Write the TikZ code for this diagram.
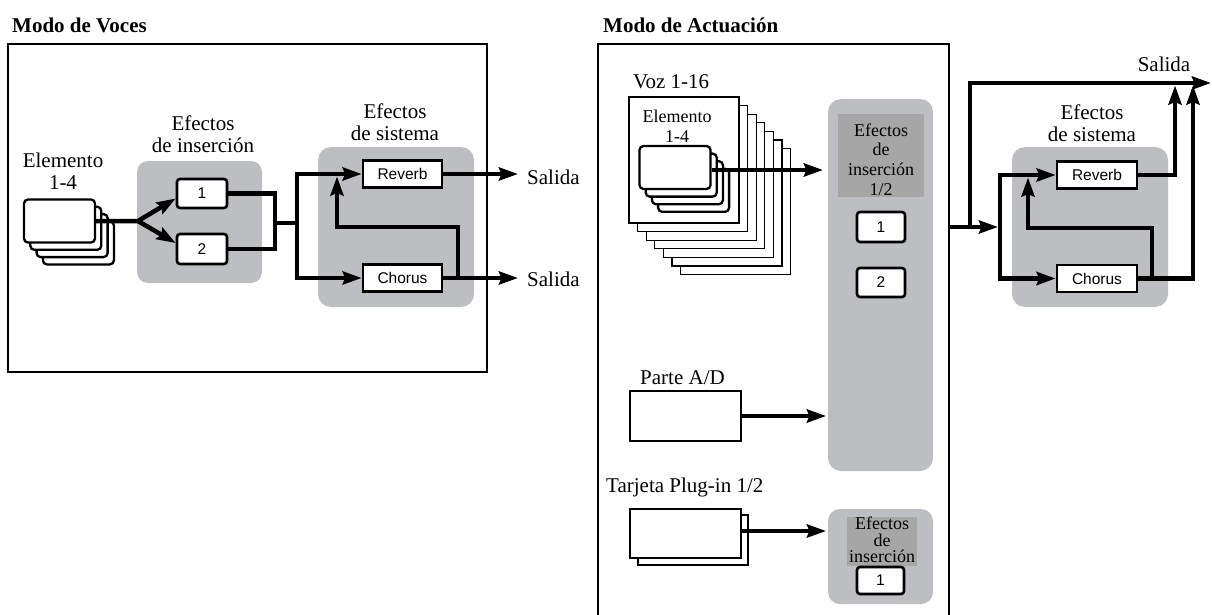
\documentclass[tikz,border=0pt]{standalone}
\usepackage{fontspec}
\setmainfont{Liberation Serif}
\setsansfont{Liberation Sans}
\usetikzlibrary{arrows.meta,calc}
\definecolor{lgray}{RGB}{189,190,193}
\definecolor{dgray}{RGB}{166,166,166}
\begin{document}
\begin{tikzpicture}[x=1pt,y=-1pt,
  frame/.style={line width=1.8pt},
  lbl/.style={font=\fontsize{21}{22}\selectfont, align=center, inner sep=0pt},
  slbl/.style={font=\fontsize{18}{19.7}\selectfont, align=center, inner sep=0pt},
  tlbl/.style={font=\fontsize{18}{16.5}\selectfont, align=center, inner sep=0pt},
  title/.style={font=\fontsize{21}{22}\selectfont\bfseries, inner sep=0pt},
  gbox/.style={fill=lgray, draw=none, rounded corners=11pt, inner sep=0pt},
  dbox/.style={fill=dgray, draw=none, inner sep=0pt},
  fxbox/.style={draw, fill=white, line width=2.6pt, rounded corners=3pt, font=\sffamily\fontsize{15.5}{15.5}\selectfont, inner sep=0pt},
  sysbox/.style={draw, fill=white, line width=2.6pt, font=\sffamily\fontsize{15.5}{15.5}\selectfont, inner sep=0pt, minimum width=79pt, minimum height=27pt},
  card/.style={draw, fill=white, line width=2.3pt, rounded corners=4pt, inner sep=0pt, minimum width=71pt, minimum height=43pt},
  sheet/.style={draw, fill=white, line width=1.2pt, inner sep=0pt},
  conn/.style={line width=4.5pt, line join=miter},
  arr/.style={conn, -{Stealth[length=19pt,width=13pt,inset=2.5pt]}},
]
\useasboundingbox (0,0) rectangle (1212,615);

% ================= Modo de Voces =================
\node[title, anchor=base west] (t1) at (12,33) {Modo de Voces};
\draw[frame] (8,44) rectangle (487,372);

\node[lbl] (elt) at (63,171) {Elemento\\1-4};
\foreach \k in {3,2,1,0}
  \node[card] (ec\k) at ({59.5+6.3*\k},{221+7.3*\k}) {};

\node[gbox, minimum width=125pt, minimum height=122pt] (ins) at (199.5,222) {};
\node[lbl] (inst) at (203,134) {Efectos\\de inserción};
\node[fxbox, minimum width=50pt, minimum height=29pt] (b1) at (202,193.5) {1};
\node[fxbox, minimum width=50pt, minimum height=30pt] (b2) at (202,249) {2};

\node[gbox, minimum width=156pt, minimum height=160pt, rounded corners=13pt] (sys) at (396,227) {};
\node[lbl] (syst) at (395,122) {Efectos\\de sistema};
\node[sysbox] (rv) at (402.5,174) {Reverb};
\node[sysbox] (ch) at (402.5,278) {Chorus};

\node[lbl, anchor=west] (sal1) at (527,177) {Salida};
\node[lbl, anchor=west] (sal2) at (527,279) {Salida};

\coordinate (sp) at (138,221);
\draw[arr] (ec0.east) -- (sp) -- ($(b1.west)+(0,5)$);
\draw[arr] (sp) -- ($(b2.west)+(0,-6)$);
\draw[conn] (b1.east) -| (275,223) |- (b2.east);
\coordinate (mj) at (297,223);
\draw[conn] (275,223) -- (mj);
\draw[arr] (mj) |- (rv.west);
\draw[arr] (mj) |- (ch.west);
\draw[arr] (rv.east) -- ([xshift=-9pt]sal1.west |- rv.east);
\draw[arr] (ch.east) -- ([xshift=-9pt]sal2.west |- ch.east);
\draw[arr] (458,278) |- (337,227) -- (337,176.5);

% ================= Modo de Actuacion =================
\node[title, anchor=base west] (t2) at (603,33) {Modo de Actuación};
\draw[frame] (598,616) -- (598,44) -- (949,44) -- (949,616);

\node[lbl, anchor=west] (voz) at (633,82) {Voz 1-16};
\foreach \k in {6,5,4,3,2,1,0}
  \node[sheet, minimum width=110pt, minimum height=126pt] (vs\k) at ({684+8.6*\k},{160+8.6*\k}) {};
\node[slbl] (iet) at (677,126) {Elemento\\1-4};
\foreach \k in {3,2,1,0}
  \node[card] (ic\k) at ({675+6.2*\k},{167.5+7.6*\k}) {};

\node[gbox, minimum width=105pt, minimum height=372pt, rounded corners=13pt] (ins2) at (880.5,285) {};
\node[dbox, minimum width=86pt, minimum height=83pt] (ins2l) at (881,155.5) {};
\node[slbl] (ins2t) at (881,159.5) {Efectos\\de\\inserción\\1/2};
\node[fxbox, minimum width=48pt, minimum height=30pt] (c1) at (881,227) {1};
\node[fxbox, minimum width=48pt, minimum height=29pt] (c2) at (881,282.5) {2};

\draw[arr] (ic0.east |- 0,170) -- (823,170);

\node[lbl, anchor=west] (adt) at (640,378) {Parte A/D};
\node[sheet, minimum width=111pt, minimum height=50pt] (ad) at (685.5,416) {};
\draw[arr] (ad.east) -- (826,416);

\node[lbl, anchor=west] (tjt) at (606,487) {Tarjeta Plug-in 1/2};
\node[sheet, minimum width=110pt, minimum height=50pt] (tc1) at (693,540) {};
\node[sheet, minimum width=111pt, minimum height=49pt] (tc0) at (685.5,533.5) {};
\draw[arr] (tc0.east |- 0,531) -- (826,531);

\node[gbox, minimum width=105pt, minimum height=95pt, rounded corners=12pt] (ins3) at (880.5,556.5) {};
\node[dbox, minimum width=70pt, minimum height=49pt] (ins3l) at (882,541.5) {};
\node[tlbl] (ins3t) at (882,540) {Efectos\\de\\inserción};
\node[fxbox, minimum width=47pt, minimum height=27pt] (d1) at (880.5,580.5) {1};

% ---- right system effects ----
\node[gbox, minimum width=156pt, minimum height=160pt, rounded corners=13pt] (sysR) at (1090,227) {};
\node[lbl] (sysRt) at (1092,123) {Efectos\\de sistema};
\node[sysbox, minimum width=80pt] (rvR) at (1097,175) {Reverb};
\node[sysbox, minimum width=80pt] (chR) at (1097,278.5) {Chorus};
\node[lbl] (salT) at (1164,64) {Salida};

\coordinate (rbo) at (949,227);
\coordinate (rsp) at (970,227);
\coordinate (rin) at (998,227);
\coordinate (rj) at (1000,227);
\coordinate (oT) at (1211,83);
\draw[conn] (rbo) -- (rsp);
\draw[arr] (rsp) -- (rin);
\draw[arr] (rsp) |- (oT);
\draw[arr] (rj) |- (rvR.west);
\draw[arr] (rj) |- (chR.west);
\draw[arr] (rvR.east) -| (1175,85.5);
\draw[arr] (chR.east) -| (1193,85.5);
\draw[arr] (1152,278.5) |- (1028,228) -- (1028,177.5);
\end{tikzpicture}
\end{document}
